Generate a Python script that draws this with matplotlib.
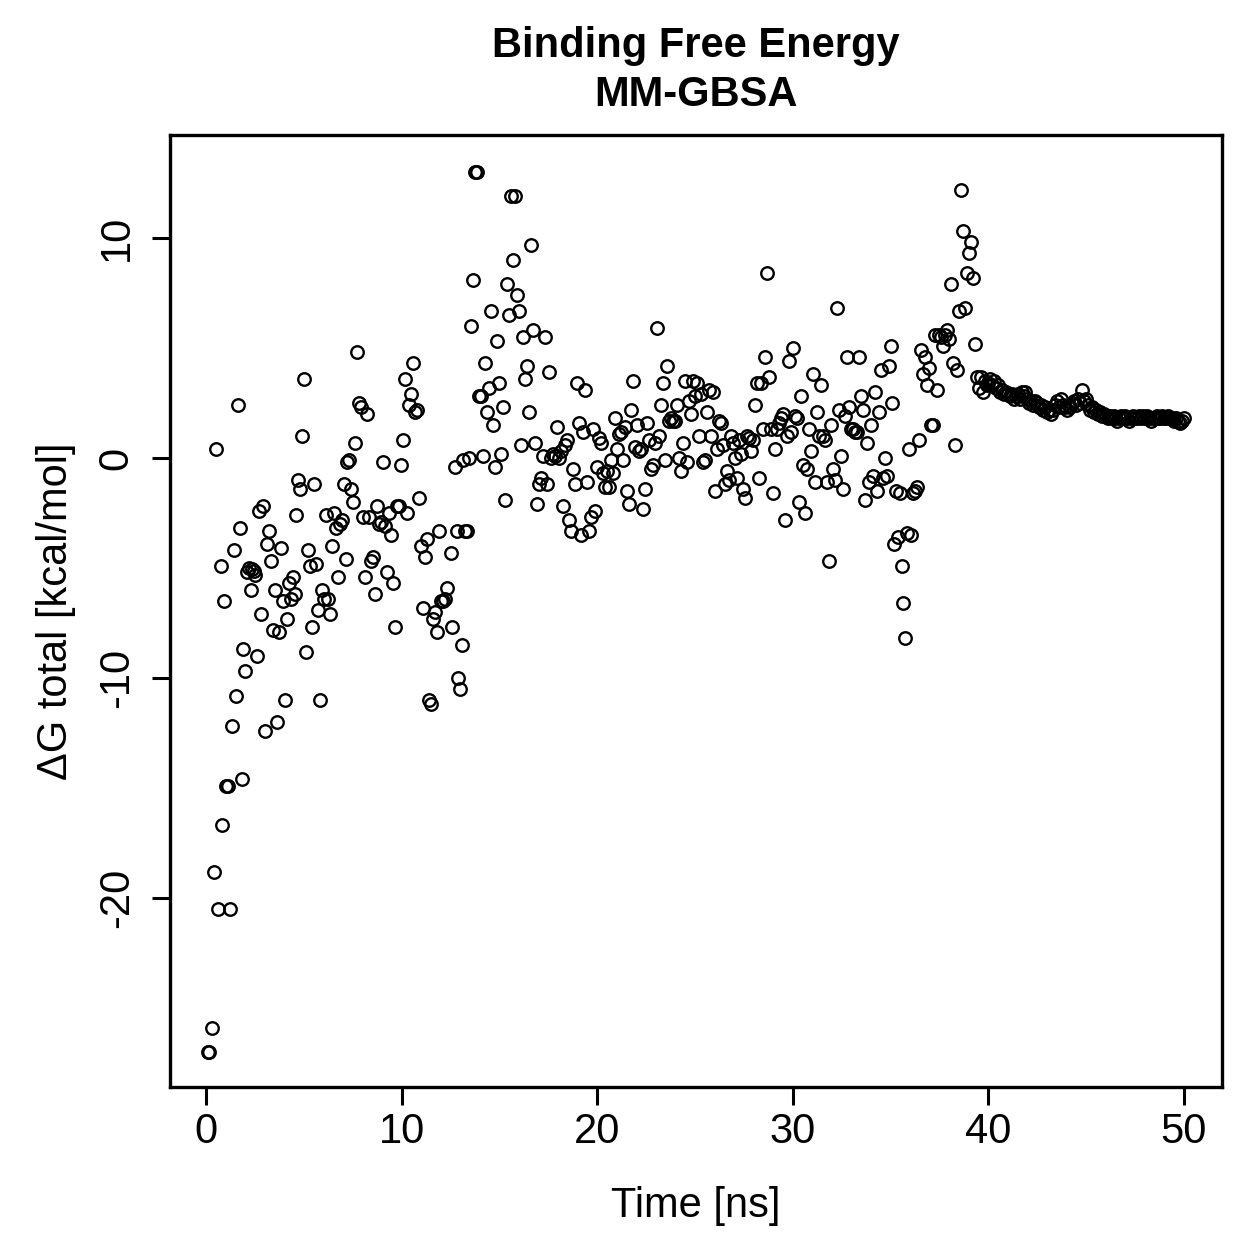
import matplotlib
matplotlib.use("Agg")
import matplotlib.pyplot as plt

plt.rcParams['font.family'] = ['Liberation Sans', 'DejaVu Sans']
plt.rcParams['axes.unicode_minus'] = False

# binding free energy per frame (time in ns, dG in kcal/mol)
t_a = [0.10, 0.15, 0.31, 0.41, 0.51, 0.61, 0.77, 0.82, 0.92, 1.02, 1.12, 1.23, 1.33, 1.43, 1.53,
       1.64, 1.74, 1.84, 1.89, 1.99, 2.10, 2.20, 2.30, 2.35, 2.45, 2.50, 2.61, 2.71, 2.81, 2.91,
       3.02, 3.12, 3.22, 3.32, 3.43, 3.53, 3.63, 3.73, 3.83, 3.94, 4.04, 4.14, 4.24, 4.35, 4.45,
       4.55, 4.60, 4.70, 4.81, 4.91, 5.01]
dg_a = [-27.0, -27.0, -25.9, -18.8, 0.4, -20.5, -4.9, -16.7, -6.5, -14.9, -14.9, -20.5, -12.2, -4.2, -10.8,
        2.4, -3.2, -14.6, -8.7, -9.7, -5.2, -5.0, -6.0, -5.05, -5.15, -5.3, -9.0, -2.4, -7.1, -2.2,
        -12.4, -3.9, -3.3, -4.7, -7.8, -6.0, -12.0, -7.9, -4.1, -6.5, -11.0, -7.3, -5.7, -6.4, -5.4,
        -6.2, -2.6, -1.0, -1.4, 1.0, 3.6]

t_b = [5.11, 5.21, 5.32, 5.42, 5.52, 5.62, 5.73, 5.83, 5.93, 6.03, 6.13, 6.24, 6.34, 6.44, 6.54,
       6.65, 6.75, 6.85, 6.95, 7.05, 7.16, 7.21, 7.31, 7.41, 7.51, 7.62, 7.72, 7.82, 7.92, 8.03,
       8.13, 8.23, 8.33, 8.43, 8.54, 8.64, 8.74, 8.84, 8.95, 9.05, 9.15, 9.25, 9.36, 9.46, 9.56,
       9.66, 9.76, 9.87, 9.97, 10.07]
dg_b = [-8.8, -4.2, -4.9, -7.7, -1.2, -4.8, -6.9, -11.0, -6.0, -6.4, -2.6, -6.4, -7.1, -4.0, -2.5,
        -3.2, -5.4, -3.0, -2.8, -1.2, -4.6, -0.2, -0.1, -1.4, -2.0, 0.7, 4.8, 2.5, 2.3, -2.7,
        -5.4, 2.0, -2.7, -4.7, -4.5, -6.2, -2.2, -3.0, -2.9, -0.2, -3.1, -5.2, -2.5, -3.5, -5.7,
        -7.7, -2.2, -2.2, -0.3, 0.8]

t_c = [10.17, 10.28, 10.38, 10.48, 10.58, 10.68, 10.79, 10.89, 10.99, 11.09, 11.20, 11.30, 11.40, 11.50, 11.60,
       11.71, 11.81, 11.91, 12.01, 12.12, 12.22, 12.32, 12.53, 12.58, 12.73, 12.83, 12.88, 12.99, 13.09, 13.14,
       13.24, 13.34, 13.44, 13.55, 13.65, 13.75, 13.85, 13.96, 14.06, 14.16, 14.26, 14.36, 14.47, 14.57, 14.67,
       14.77, 14.88, 14.98, 15.08]
dg_c = [3.6, -2.5, 2.4, 2.9, 4.3, 2.1, 2.2, -1.8, -4.0, -6.8, -4.5, -3.7, -11.0, -11.2, -7.3,
        -7.0, -7.9, -3.3, -6.5, -6.5, -6.4, -5.9, -4.3, -7.7, -0.4, -3.3, -10.0, -10.5, -8.5, -0.1,
        -3.3, -3.3, 0.0, 6.0, 8.1, 13.0, 13.0, 2.8, 2.8, 0.1, 4.3, 2.1, 3.2, 6.7, 1.5,
        -0.4, 5.3, 3.4, 0.2]

t_d = [15.18, 15.28, 15.39, 15.49, 15.59, 15.69, 15.80, 15.90, 16.00, 16.10, 16.20, 16.31, 16.41, 16.51, 16.61,
       16.72, 16.82, 16.92, 17.02, 17.12, 17.23, 17.33, 17.43, 17.53, 17.64, 17.74, 17.84, 17.94, 18.05, 18.15,
       18.25, 18.35, 18.45, 18.56, 18.66, 18.76, 18.86, 18.97, 19.07, 19.17, 19.27, 19.37, 19.48, 19.58, 19.68,
       19.78, 19.89, 19.99]
dg_d = [2.3, -1.9, 7.9, 6.5, 11.9, 9.0, 11.9, 7.4, 6.7, 0.6, 5.5, 3.6, 4.2, 2.1, 9.7,
        5.8, 0.7, -2.1, -1.2, -0.9, 0.1, 5.5, -1.2, 3.9, 0.0, 0.2, 0.1, 1.4, 0.0, 0.3,
        -2.2, 0.6, 0.8, -2.8, -3.3, -0.5, -1.2, 3.4, 1.6, -3.5, 1.2, 3.1, -1.1, -3.3, -2.7,
        1.3, -2.4, -0.4]

t_e = [20.09, 20.19, 20.29, 20.40, 20.50, 20.60, 20.70, 20.81, 20.91, 21.01, 21.11, 21.21, 21.32, 21.42, 21.52,
       21.62, 21.73, 21.83, 21.93, 22.03, 22.13, 22.24, 22.34, 22.44, 22.54, 22.65, 22.75, 22.85, 22.95, 23.05,
       23.16, 23.26, 23.36, 23.46, 23.57, 23.67, 23.77, 23.87, 23.98, 24.08, 24.18, 24.28, 24.38, 24.49, 24.59,
       24.69, 24.79, 24.90, 25.00]
dg_e = [0.9, 0.7, -0.7, -1.3, -0.6, -1.3, -0.1, -0.7, 1.8, 0.4, 1.1, 1.2, -0.1, 1.4, -1.5,
        -2.1, 2.2, 3.5, 0.5, 1.5, 0.3, 0.4, -2.3, -1.4, 1.6, 0.8, -0.5, -0.3, 0.7, 5.9,
        1.0, 2.4, 3.4, -0.1, 4.2, 1.7, 1.8, 1.7, 1.7, 2.4, 0.0, -0.6, 0.7, 3.5, -0.2,
        2.6, 2.0, 3.5, 2.8]

t_f = [25.10, 25.20, 25.30, 25.41, 25.51, 25.61, 25.71, 25.82, 25.92, 26.02, 26.12, 26.22, 26.33, 26.43, 26.53,
       26.63, 26.74, 26.84, 26.94, 27.04, 27.14, 27.25, 27.35, 27.45, 27.55, 27.66, 27.76, 27.86, 27.96, 28.06,
       28.17, 28.27, 28.37, 28.47, 28.58, 28.68, 28.78, 28.88, 28.98, 29.09, 29.19, 29.29, 29.39, 29.50, 29.60,
       29.70, 29.80, 29.91, 30.01]
dg_f = [3.4, 1.0, 2.9, -0.2, -0.1, 2.1, 3.1, 1.0, 3.0, -1.5, 0.4, 1.7, 1.6, 0.6, -1.2,
        -0.6, -1.0, 1.0, 0.7, 0.0, -0.9, 0.8, 0.2, -1.4, -1.8, 1.0, 0.9, 0.3, 0.8, 2.4,
        3.4, -0.9, 3.4, 1.3, 4.6, 8.4, 3.7, 1.3, -1.6, 0.4, 1.3, 1.6, 1.8, 2.0, -2.8,
        1.0, 4.4, 1.2, 5.0]

t_g = [30.11, 30.21, 30.31, 30.42, 30.52, 30.62, 30.72, 30.82, 30.93, 31.03, 31.13, 31.23, 31.34, 31.44, 31.54,
       31.64, 31.75, 31.85, 31.95, 32.05, 32.15, 32.26, 32.36, 32.46, 32.56, 32.67, 32.77, 32.87, 32.97, 33.07,
       33.18, 33.28, 33.38, 33.48, 33.59, 33.69, 33.79, 33.89, 33.99, 34.10, 34.20, 34.30, 34.40, 34.51, 34.61,
       34.71, 34.81, 34.91, 35.02]
dg_g = [1.9, 1.8, -2.0, 2.8, -0.3, -2.5, -0.5, 1.3, 0.3, 3.8, -1.1, 2.1, 1.0, 3.3, 1.0,
        0.8, -1.1, -4.7, 1.5, -0.5, -1.0, 6.8, 2.2, 0.1, -1.4, 1.9, 4.6, 2.3, 1.3, 1.3,
        1.2, 1.2, 4.6, 2.8, 2.2, -1.9, 0.7, -1.1, 1.5, -0.8, 3.0, -1.5, 2.1, 4.0, -0.9,
        0.0, -0.8, 4.2, 5.1]

t_h = [35.07, 35.17, 35.27, 35.37, 35.48, 35.58, 35.63, 35.73, 35.83, 35.94, 36.04, 36.14, 36.24, 36.35, 36.45,
       36.55, 36.65, 36.76, 36.86, 36.96, 37.06, 37.16, 37.27, 37.37, 37.47, 37.57, 37.67, 37.78, 37.88, 37.98,
       38.08, 38.19, 38.29, 38.39, 38.49, 38.60, 38.70, 38.80, 38.90, 39.00, 39.11, 39.21, 39.31, 39.41, 39.52,
       39.62, 39.72, 39.82, 39.92]
dg_h = [2.5, -3.9, -1.5, -3.6, -1.6, -4.9, -6.6, -8.2, -3.4, 0.4, -3.5, -1.6, -1.5, -1.3, 0.8,
        4.9, 3.8, 4.6, 3.3, 4.1, 1.5, 1.5, 5.6, 3.1, 5.6, 5.5, 5.1, 5.6, 5.8, 5.4,
        7.9, 4.3, 0.6, 4.0, 6.7, 12.2, 10.3, 6.8, 8.4, 9.3, 9.8, 8.2, 5.2, 3.7, 3.2,
        3.7, 3.0, 3.5, 3.3]

t_i = [40.0, 40.1, 40.2, 40.3, 40.4, 40.5, 40.6, 40.7, 40.8, 40.9,
       41.0, 41.1, 41.2, 41.3, 41.4, 41.5, 41.6, 41.7, 41.8, 41.9,
       42.0, 42.1, 42.2, 42.3, 42.4, 42.5, 42.6, 42.7, 42.8, 42.9,
       43.0, 43.1, 43.2, 43.3, 43.4, 43.5, 43.6, 43.7, 43.8, 43.9,
       44.0, 44.1, 44.2, 44.3, 44.4, 44.5, 44.6, 44.7, 44.8, 44.9,
       45.0, 45.1, 45.2, 45.3, 45.4, 45.5, 45.6, 45.7, 45.8, 45.9,
       46.0, 46.1, 46.2, 46.3, 46.4, 46.5, 46.6, 46.7, 46.8, 46.9,
       47.0, 47.1, 47.2, 47.3, 47.4, 47.5, 47.6, 47.7, 47.8, 47.9,
       48.0, 48.1, 48.2, 48.3, 48.4, 48.5, 48.6, 48.7, 48.8, 48.9,
       49.0, 49.1, 49.2, 49.3, 49.4, 49.5, 49.6, 49.7, 49.8, 49.9, 50.0]
dg_i = [3.4, 3.6, 3.3, 3.5, 3.2, 3.3, 3.0, 3.1, 2.9, 3.0,
        2.9, 2.8, 2.9, 2.7, 2.8, 2.9, 2.7, 3.0, 2.8, 3.0,
        2.7, 2.5, 2.6, 2.4, 2.6, 2.5, 2.3, 2.4, 2.2, 2.3,
        2.1, 2.2, 2.0, 2.2, 2.4, 2.6, 2.3, 2.7, 2.4, 2.3,
        2.2, 2.4, 2.3, 2.5, 2.6, 2.4, 2.7, 2.5, 3.1, 2.6,
        2.7, 2.4, 2.2, 2.3, 2.1, 2.2, 2.0, 2.1, 1.9, 2.0,
        1.9, 1.8, 1.9, 1.8, 1.9, 1.8, 1.7, 1.8, 1.9, 1.8,
        1.9, 1.8, 1.7, 1.8, 1.9, 1.8, 1.8, 1.9, 1.8, 1.9,
        1.8, 1.9, 1.8, 1.7, 1.8, 1.8, 1.9, 1.8, 1.8, 1.9,
        1.8, 1.8, 1.9, 1.8, 1.8, 1.7, 1.8, 1.7, 1.6, 1.7, 1.8]

time_ns = t_a + t_b + t_c + t_d + t_e + t_f + t_g + t_h + t_i
dg_total = dg_a + dg_b + dg_c + dg_d + dg_e + dg_f + dg_g + dg_h + dg_i

fig = plt.figure(figsize=(12.59, 12.59), dpi=100)
ax = fig.add_axes([0.135, 0.1366, 0.8355, 0.7562])

ax.plot(time_ns, dg_total, 'o', markersize=9, markerfacecolor='none',
        markeredgecolor='black', markeredgewidth=1.7)

ax.set_xlim(-1.84, 51.94)
ax.set_ylim(-28.59, 14.68)
ax.set_xticks([0, 10, 20, 30, 40, 50])
ax.set_yticks([-20, -10, 0, 10])
ax.tick_params(axis='both', direction='out', length=13, width=2.2, labelsize=30)
ax.tick_params(axis='x', pad=5)
ax.tick_params(axis='y', pad=11)
for lab in ax.get_yticklabels():
    lab.set_rotation(90)
    lab.set_va('center')
for s in ax.spines.values():
    s.set_linewidth(2.4)

ax.set_xlabel('Time [ns]', fontsize=30, va='baseline')
ax.xaxis.set_label_coords(0.5, -0.1366)
ax.set_ylabel('ΔG total [kcal/mol]', fontsize=30, va='baseline')
ax.yaxis.set_label_coords(-0.098, 0.5)
ax.set_title('Binding Free Energy\nMM-GBSA', fontsize=30, fontweight='bold', pad=21, linespacing=1.28)

fig.savefig('out.png', dpi=100)
